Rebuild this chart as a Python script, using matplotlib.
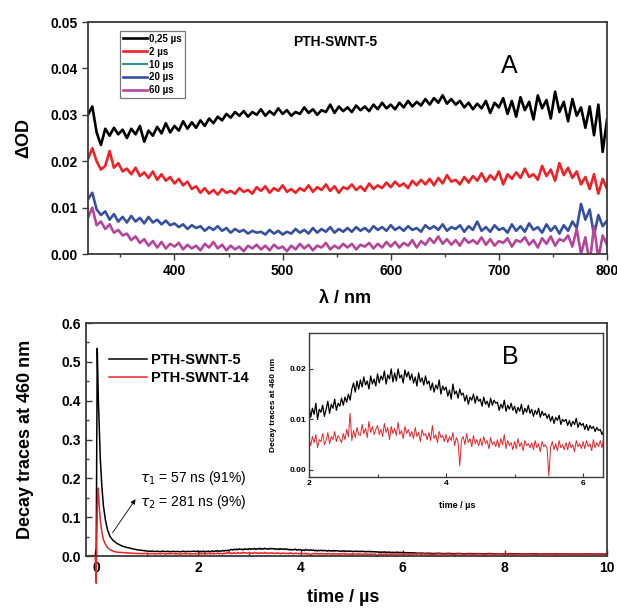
import numpy as np
import matplotlib.pyplot as plt
from matplotlib.ticker import MultipleLocator
from matplotlib.lines import Line2D

plt.rcParams['font.family'] = ['Liberation Sans', 'DejaVu Sans']
plt.rcParams['mathtext.fontset'] = 'dejavusans'

# ---- panel A: transient spectra, dOD in 1e-4 units, one value every 4 nm (320..800)
wl_start, wl_step = 320, 4
od_025us = [300, 318, 262, 235, 270, 255, 272, 258, 268, 250,
            270, 258, 276, 242, 266, 255, 274, 260, 282, 262,
            276, 266, 286, 270, 284, 272, 288, 276, 292, 282,
            296, 288, 302, 294, 306, 298, 308, 296, 306, 300,
            312, 298, 308, 300, 314, 302, 310, 298, 306, 302,
            316, 304, 312, 300, 310, 306, 322, 304, 318, 308,
            316, 306, 320, 310, 318, 308, 322, 312, 326, 314,
            322, 312, 326, 316, 330, 318, 328, 320, 334, 322,
            336, 326, 342, 324, 334, 322, 330, 316, 326, 312,
            324, 314, 330, 304, 326, 316, 336, 302, 330, 296,
            338, 310, 328, 290, 342, 314, 332, 292, 350, 306,
            328, 286, 334, 298, 316, 272, 318, 256, 322, 220,
            290]
od_2us = [205, 228, 200, 182, 190, 222, 186, 196, 178, 184,
          172, 186, 168, 176, 164, 178, 160, 172, 158, 166,
          152, 162, 148, 156, 140, 146, 132, 142, 130, 138,
          128, 140, 132, 136, 130, 142, 134, 138, 130, 144,
          136, 146, 132, 142, 136, 148, 134, 140, 132, 142,
          136, 148, 134, 144, 138, 150, 136, 146, 132, 144,
          140, 150, 138, 146, 136, 152, 140, 148, 142, 154,
          144, 156, 146, 152, 142, 158, 148, 160, 150, 162,
          148, 164, 152, 170, 156, 160, 150, 166, 154, 168,
          158, 174, 156, 170, 160, 178, 150, 172, 162, 176,
          164, 184, 166, 172, 160, 190, 168, 182, 158, 196,
          170, 186, 164, 178, 150, 166, 140, 172, 130, 162,
          140]
od_20us = [118, 132, 96, 84, 92, 74, 86, 70, 80, 68,
           82, 70, 78, 66, 80, 68, 74, 64, 72, 62,
           66, 58, 64, 54, 62, 56, 60, 50, 58, 52,
           60, 50, 56, 46, 54, 48, 52, 44, 50, 46,
           48, 42, 52, 44, 50, 42, 48, 44, 54, 46,
           52, 44, 56, 46, 54, 48, 58, 46, 54, 48,
           56, 48, 58, 50, 56, 48, 60, 52, 58, 50,
           62, 52, 58, 50, 60, 52, 56, 48, 62, 54,
           60, 52, 64, 50, 58, 54, 62, 48, 60, 52,
           70, 50, 58, 48, 62, 52, 56, 46, 64, 50,
           60, 48, 66, 52, 58, 46, 64, 50, 60, 44,
           62, 50, 70, 56, 108, 74, 96, 40, 84, 60,
           72]
od_60us = [78, 100, 62, 70, 54, 64, 46, 52, 40, 44,
           30, 38, 24, 32, 18, 28, 14, 26, 12, 22,
           16, 24, 10, 20, 12, 18, 8, 22, 14, 26,
           12, 20, 8, 18, 10, 16, 6, 18, 12, 20,
           10, 18, 8, 20, 12, 16, 6, 18, 10, 22,
           12, 20, 8, 18, 14, 24, 10, 18, 12, 22,
           14, 22, 10, 20, 16, 24, 12, 22, 14, 26,
           16, 26, 14, 24, 18, 30, 14, 28, 20, 34,
           24, 38, 22, 32, 20, 30, 18, 34, 24, 30,
           22, 36, 20, 32, 18, 28, 24, 34, 16, 30,
           26, 36, 20, 30, 14, 34, 22, 38, 18, 32,
           28, 40, 16, 54, 0, 36, -20, 60, -10, 40,
           20]
spec_labels = ['0,25 \u00b5s', '2 \u00b5s', '10 \u00b5s', '20 \u00b5s', '60 \u00b5s']

# ---- panel B: decay traces at 460 nm, in 1e-4 units
t_fast = [-0.20, -0.17, -0.14, -0.11, -0.08, -0.05, -0.02, 0.00, 0.01, 0.02,
          0.03, 0.04, 0.06, 0.08, 0.11, 0.14, 0.18, 0.22, 0.27, 0.33,
          0.40, 0.50, 0.60, 0.70, 0.80, 0.90]
swnt5_fast = [6, -4, 8, 0, 10, -2, 12, 200, 3000, 5350,
              4700, 4100, 3300, 2500, 1800, 1300, 930, 680, 500, 400,
              330, 260, 220, 190, 160, 145]
swnt14_fast = [10, -12, 14, -6, 18, -10, 8, -700, 400, 1200,
               1600, 1750, 1250, 930, 620, 430, 300, 220, 165, 125,
               100, 90, 80, 72, 66, 62]
# 1.0 .. 1.95 us every 0.05 us
swnt5_mid = [132, 120, 128, 116, 124, 112, 126, 114, 120, 110,
             122, 112, 118, 108, 124, 110, 120, 114, 126, 116]
swnt14_mid = [70, 58, 66, 52, 64, 56, 68, 50, 62, 58,
              66, 54, 60, 50, 64, 56, 62, 52, 60, 56]
# 2.0 .. 6.475 us every 0.025 us
swnt5_slow = [126, 104, 122, 110, 132, 100, 120, 114, 128, 106,
              120, 136, 112, 130, 122, 140, 118, 132, 126, 142,
              128, 144, 134, 150, 138, 160, 172, 154, 176, 160,
              178, 164, 184, 168, 176, 160, 186, 170, 180, 166,
              190, 172, 186, 178, 196, 170, 188, 180, 200, 174,
              192, 176, 200, 182, 188, 172, 198, 184, 194, 178,
              190, 172, 184, 166, 192, 174, 182, 168, 186, 170,
              176, 158, 172, 154, 168, 160, 178, 150, 166, 158,
              164, 146, 158, 140, 170, 150, 156, 142, 160, 148,
              152, 136, 148, 130, 144, 138, 150, 132, 146, 136,
              140, 126, 144, 130, 136, 124, 142, 128, 138, 132,
              134, 118, 130, 122, 138, 116, 128, 120, 132, 118,
              126, 112, 124, 116, 130, 110, 122, 114, 128, 112,
              120, 106, 118, 110, 122, 104, 116, 108, 112, 102,
              110, 96, 106, 92, 104, 98, 108, 90, 100, 96,
              100, 88, 98, 86, 96, 90, 102, 84, 94, 88,
              92, 80, 90, 78, 88, 82, 86, 76, 84, 78,
              80, 70, 78, 66, 76, 72, 74, 64, 72, 68]
swnt14_slow = [62, 48, 66, 54, 70, 44, 60, 56, 72, 50,
               58, 74, 52, 66, 60, 76, 56, 68, 62, 54,
               72, 60, 80, 66, 112, 58, 78, 64, 84, 70,
               68, 90, 72, 82, 64, 96, 74, 86, 70, 80,
               88, 70, 80, 66, 92, 74, 84, 60, 86, 72,
               82, 68, 94, 70, 78, 62, 86, 72, 80, 66,
               76, 62, 84, 66, 74, 56, 80, 68, 72, 60,
               74, 58, 88, 62, 70, 54, 76, 64, 68, 56,
               70, 54, 66, 58, 74, 48, 64, 56, 8, 60,
               66, 50, 72, 54, 62, 46, 68, 52, 60, 48,
               62, 48, 66, 52, 58, 42, 64, 50, 56, 46,
               60, 44, 62, 50, 70, 42, 58, 48, 54, 40,
               56, 42, 62, 46, 54, 38, 58, 48, 52, 44,
               54, 40, 58, 44, 52, 36, 56, 46, 50, 42,
               -12, 44, 56, 40, 52, 38, 58, 44, 50, 40,
               54, 40, 56, 44, 50, 36, 58, 46, 52, 42,
               56, 42, 58, 46, 52, 38, 60, 44, 54, 46,
               58, 44, 62, 48, 54, 40, 60, 46, 52, 48]
# 6.5 .. 10.0 us every 0.1 us
swnt5_tail = [72, 64, 70, 62, 68, 60, 66, 58, 64, 60,
              62, 56, 64, 58, 60, 54, 62, 56, 58, 52,
              60, 54, 58, 50, 56, 52, 58, 50, 54, 48,
              56, 50, 54, 48, 52, 50]
swnt14_tail = [50, 42, 54, 46, 52, 40, 56, 44, 50, 46,
               54, 42, 52, 48, 56, 44, 50, 42, 54, 46,
               52, 40, 58, 44, 50, 46, 54, 42, 52, 48,
               56, 44, 50, 46, 54, 48]

c_black, c_red, c_teal, c_blue, c_mag = '#000000', '#ec2227', '#2a9a8c', '#3651a3', '#b3469c'
spine_c = '#3a3a3a'

fig = plt.figure(figsize=(6.17, 6.08), dpi=100)

# ================= panel A
ax1 = fig.add_axes([0.1426, 0.5822, 0.8412, 0.3816])
wl = wl_start + wl_step * np.arange(len(od_025us))
l1, = ax1.plot(wl, np.array(od_025us) * 1e-4, color=c_black, lw=1.9)
l2, = ax1.plot(wl, np.array(od_2us) * 1e-4, color=c_red, lw=1.9)
l4, = ax1.plot(wl, np.array(od_20us) * 1e-4, color=c_blue, lw=1.9)
l5, = ax1.plot(wl, np.array(od_60us) * 1e-4, color=c_mag, lw=1.9)
l3 = Line2D([], [], color=c_teal, lw=1.5)
ax1.set_xlim(320, 800)
ax1.set_ylim(0, 0.05)
ax1.xaxis.set_major_locator(MultipleLocator(100))
ax1.xaxis.set_minor_locator(MultipleLocator(50))
ax1.yaxis.set_major_locator(MultipleLocator(0.01))
ax1.yaxis.set_major_formatter(plt.FormatStrFormatter('%.2f'))
ax1.tick_params(which='both', direction='out', labelsize=10, width=1.0, color=spine_c)
ax1.tick_params(which='major', length=4)
ax1.tick_params(which='minor', length=2.5)
for lab in ax1.get_xticklabels() + ax1.get_yticklabels():
    lab.set_fontweight('bold')
for s in ax1.spines.values():
    s.set_color(spine_c)
    s.set_linewidth(1.3)
ax1.set_ylabel('\u0394OD', fontsize=13, fontweight='bold')
ax1.yaxis.set_label_coords(-0.108, 0.5)
ax1.set_xlabel('\u03bb / nm', fontsize=13, fontweight='bold')
ax1.xaxis.set_label_coords(0.495, -0.155)
leg1 = ax1.legend([l1, l2, l3, l4, l5], spec_labels, loc='upper left',
                  bbox_to_anchor=(0.062, 0.962), prop={'size': 7, 'weight': 'bold'},
                  handlelength=2.5, handletextpad=0.2, labelspacing=0.3,
                  borderpad=0.3, borderaxespad=0, fancybox=False, framealpha=1)
leg1.get_frame().set_edgecolor('#777777')
leg1.get_frame().set_linewidth(0.9)
ax1.text(0.395, 0.914, 'PTH-SWNT-5', transform=ax1.transAxes, fontsize=10,
         fontweight='bold', va='center', ha='left')
ax1.text(0.811, 0.81, 'A', transform=ax1.transAxes, fontsize=18, va='center', ha='center')

# ================= panel B
t_mid = 1.0 + 0.05 * np.arange(len(swnt5_mid))
t_slow = 2.0 + 0.025 * np.arange(len(swnt5_slow))
t_tail = 6.5 + 0.1 * np.arange(len(swnt5_tail))
t_all = np.concatenate([t_fast, t_mid, t_slow, t_tail])
swnt5 = np.concatenate([swnt5_fast, swnt5_mid, swnt5_slow, swnt5_tail]) * 1e-4
swnt14 = np.concatenate([swnt14_fast, swnt14_mid, swnt14_slow, swnt14_tail]) * 1e-4

ax2 = fig.add_axes([0.1394, 0.0855, 0.8444, 0.3832])
ax2.plot(t_all, swnt5, color=c_black, lw=1.1, label='PTH-SWNT-5')
ax2.plot(t_all, swnt14, color=c_red, lw=1.1, label='PTH-SWNT-14', clip_on=False)
ax2.set_xlim(-0.2, 10.0)
ax2.set_ylim(0, 0.6)
ax2.xaxis.set_major_locator(MultipleLocator(2))
ax2.xaxis.set_minor_locator(MultipleLocator(1))
ax2.yaxis.set_major_locator(MultipleLocator(0.1))
ax2.yaxis.set_minor_locator(MultipleLocator(0.05))
ax2.tick_params(which='both', direction='in', labelsize=10, width=1.0, color=spine_c)
ax2.tick_params(which='major', length=4)
ax2.tick_params(which='minor', length=2.5)
for lab in ax2.get_xticklabels() + ax2.get_yticklabels():
    lab.set_fontweight('bold')
for s in ax2.spines.values():
    s.set_color(spine_c)
    s.set_linewidth(1.3)
ax2.set_ylabel('Decay traces at 460 nm', fontsize=13, fontweight='bold')
ax2.yaxis.set_label_coords(-0.100, 0.5)
ax2.set_xlabel('time / \u00b5s', fontsize=13, fontweight='bold')
ax2.xaxis.set_label_coords(0.493, -0.142)
ax2.legend(loc='upper left', bbox_to_anchor=(0.044, 0.87), frameon=False,
           prop={'size': 10.5, 'weight': 'bold'}, handlelength=2.6,
           handletextpad=0.3, labelspacing=0.25, borderpad=0, borderaxespad=0)
ax2.text(0.86, 0.20, r'$\tau_1$ = 57 ns (91%)', fontsize=10, va='center')
ax2.text(0.86, 0.139, r'$\tau_2$ = 281 ns (9%)', fontsize=10, va='center')
ax2.annotate('', xy=(0.80, 0.152), xytext=(0.29, 0.054),
             arrowprops=dict(arrowstyle='-|>', lw=0.6, color='black', mutation_scale=7))

# ---- inset
axi = fig.add_axes([0.5008, 0.2155, 0.4765, 0.2368])
axi.plot(t_all, swnt5, color=c_black, lw=0.9)
axi.plot(t_all, swnt14, color=c_red, lw=0.7)
axi.set_xlim(2.0, 6.29)
axi.set_ylim(-0.0014, 0.0271)
axi.xaxis.set_major_locator(MultipleLocator(2))
axi.xaxis.set_minor_locator(MultipleLocator(1))
axi.yaxis.set_major_locator(MultipleLocator(0.01))
axi.yaxis.set_major_formatter(plt.FormatStrFormatter('%.2f'))
axi.tick_params(which='both', direction='in', labelsize=6, width=0.8, color=spine_c, pad=2)
axi.tick_params(which='major', length=3)
axi.tick_params(which='minor', length=2)
for lab in axi.get_xticklabels() + axi.get_yticklabels():
    lab.set_fontweight('bold')
for s in axi.spines.values():
    s.set_color(spine_c)
    s.set_linewidth(1.0)
axi.set_ylabel('Decay traces at 460 nm', fontsize=6, fontweight='bold')
axi.yaxis.set_label_coords(-0.11, 0.5)
axi.set_xlabel('time / \u00b5s', fontsize=6.5, fontweight='bold')
axi.xaxis.set_label_coords(0.503, -0.17)
fig.text(0.8266, 0.4128, 'B', fontsize=18, ha='center', va='center')

fig.savefig('out.png', dpi=100)
